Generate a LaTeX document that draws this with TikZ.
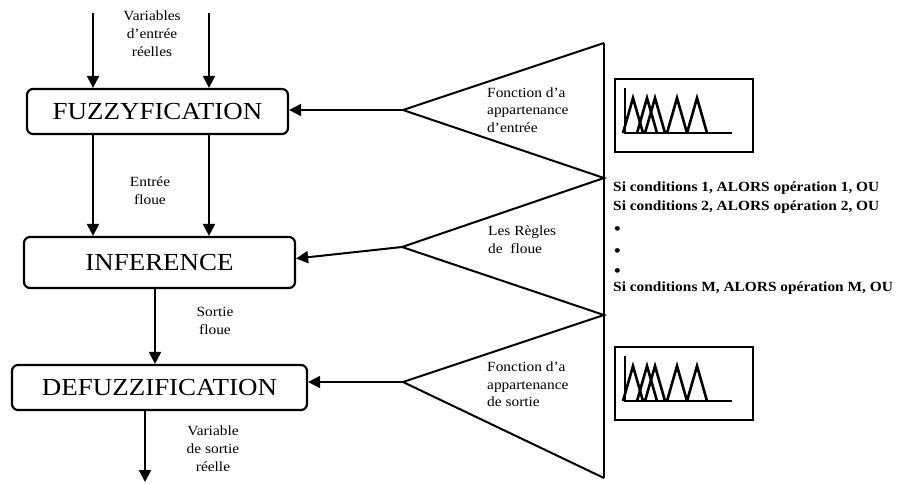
\documentclass[tikz,border=0pt]{standalone}
\usepackage{fontspec}
\setmainfont[FakeStretch=1.1]{Liberation Serif}
\usetikzlibrary{arrows.meta}
\begin{document}
\begin{tikzpicture}[x=1pt,y=-1pt,
  stage/.style={draw, line width=2.2pt, rounded corners=6pt, inner sep=0pt,
    font=\fontsize{24.5}{28}\selectfont},
  arr/.style={line width=2pt, -{Triangle[length=12pt,width=12pt]}},
  lbl/.style={font=\fontsize{14}{18}\selectfont, align=center, inner sep=0pt},
  side/.style={font=\fontsize{14}{17.5}\selectfont, align=left, anchor=west, inner sep=0pt},
  rule/.style={font=\bfseries\fontsize{14}{17}\selectfont, anchor=west, inner sep=0pt},
  mfbox/.style={draw, line width=2.8pt, minimum width=138pt, minimum height=73pt, inner sep=0pt},
  cone/.style={line width=2pt, line join=miter},
  mfplot/.pic={
    \draw[line width=2.6pt] (-59,-27.5) -- (-59,17.5) -- (48,17.5);
    \foreach \p in {-51,-37,-29,-7,13}
      \draw[line width=2.6pt, line join=miter] (\p-10,17.5) -- (\p,-17.5) -- (\p+10,17.5);
  }
]
\useasboundingbox (0,0) rectangle (897,483);

% processing stages
\node[stage, minimum width=261pt, minimum height=45pt] (fuzz) at (157.5,111.5) {FUZZYFICATION};
\node[stage, minimum width=271pt, minimum height=51pt] (inf) at (159.5,262.5) {INFERENCE};
\node[stage, minimum width=295pt, minimum height=45pt] (defuzz) at (159.5,387.5) {DEFUZZIFICATION};

% vertical flow
\coordinate (xa) at (93,0);
\coordinate (xb) at (209,0);
\coordinate (xc) at (155,0);
\coordinate (xd) at (145,0);
\coordinate (inA) at (93,13);
\coordinate (inB) at (209,13);
\coordinate (out) at (145,482);

\draw[arr] (inA) -- (inA |- fuzz.north);
\draw[arr] (inB) -- (inB |- fuzz.north);
\draw[arr] (xa |- fuzz.south) -- (xa |- inf.north);
\draw[arr] (xb |- fuzz.south) -- (xb |- inf.north);
\draw[arr] (xc |- inf.south) -- (xc |- defuzz.north);
\draw[arr] (xd |- defuzz.south) -- (out);

\node[lbl, align=center] (lin) at (152,34) {Variables\\d’entrée\\réelles};
\node[lbl] (lfz) at (150,191) {Entrée\\floue};
\node[lbl] (linf) at (215,321) {Sortie\\floue};
\node[lbl] (lout) at (213,449) {Variable\\de sortie\\réelle};

% knowledge-base cones
\coordinate (t1u) at (604,43);
\coordinate (t1a) at (403,110);
\coordinate (t1d) at (604,178);
\coordinate (t2a) at (402,247);
\coordinate (t2d) at (604,315);
\coordinate (t3a) at (403,382);
\coordinate (t3d) at (604,478);

\draw[cone] (t1u) -- (t1a) -- (t1d) -- (t2a) -- (t2d) -- (t3a) -- (t3d);
\draw[cone] (t1u) -- (t3d);

\draw[arr] (t1a) -- (t1a -| fuzz.east);
\draw[arr] (t2a) -- ([yshift=4pt]inf.east);
\draw[arr] (t3a) -- (t3a -| defuzz.east);

\node[side] (c1) at (487,110) {Fonction d’a\\appartenance\\d’entrée};
\node[side] (c2) at (488,239.5) {Les Règles\\de\ \ floue};
\node[side] (c3) at (487,384.5) {Fonction d’a\\appartenance\\de sortie};

% membership function sketches
\node[mfbox] (mf1) at (684,115.5) {};
\pic at (mf1.center) {mfplot};
\node[mfbox] (mf2) at (684,383.5) {};
\pic at (mf2.center) {mfplot};

% rule base
\node[rule] (r1) at (613,188) {Si conditions 1, ALORS opération 1, OU};
\node[rule] (r2) at (613,207) {Si conditions 2, ALORS opération 2, OU};
\node[rule, font=\bfseries\fontsize{17}{17}\selectfont] (d1) at (614,231) {•};
\node[rule, font=\bfseries\fontsize{17}{17}\selectfont] (d2) at (614,253) {•};
\node[rule, font=\bfseries\fontsize{17}{17}\selectfont] (d3) at (614,273) {•};
\node[rule] (rM) at (613,288) {Si conditions M, ALORS opération M, OU};
\end{tikzpicture}
\end{document}
